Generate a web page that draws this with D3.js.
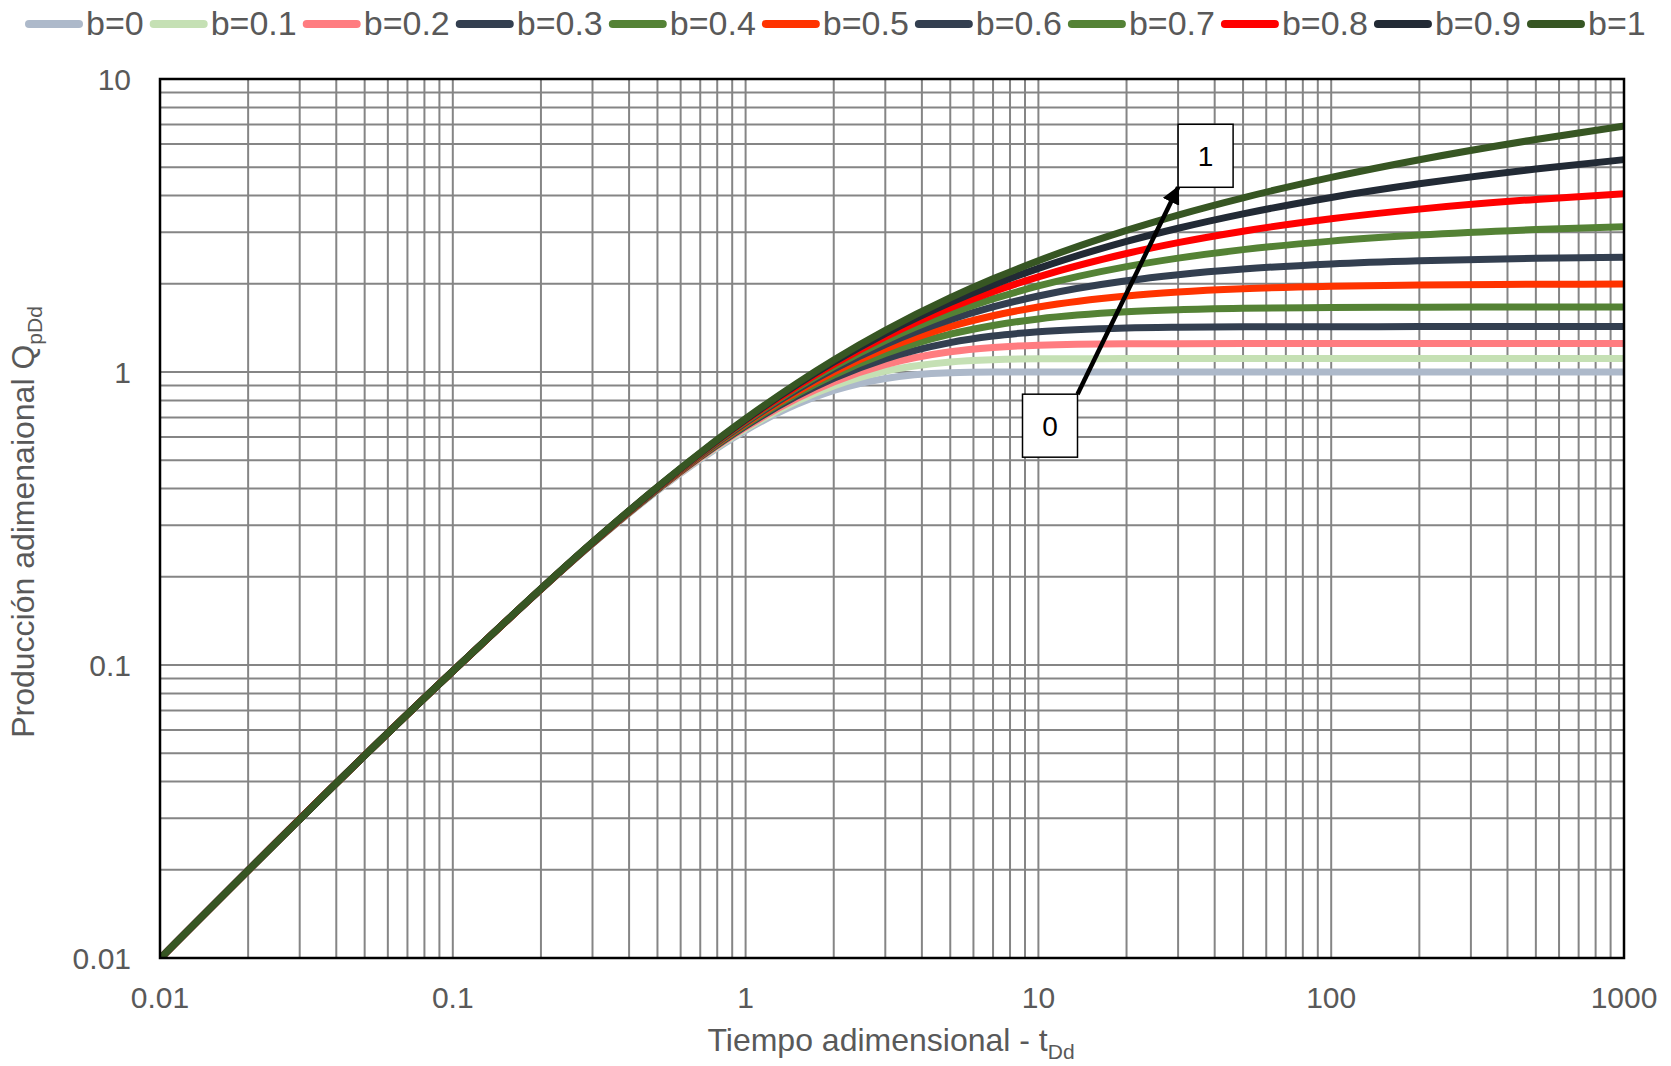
<!DOCTYPE html>
<html>
<head>
<meta charset="utf-8">
<script src="https://cdn.jsdelivr.net/npm/d3@7"></script>
<style>
  html, body { margin: 0; padding: 0; background: #fff; }
  svg { display: block; font-family: "Liberation Sans", Arial, sans-serif; }
</style>
</head>
<body>
<svg id="chart" width="1671" height="1066"></svg>
<script>
// Dimensionless time t_Dd at which each curve is sampled
const tDd = [0.01, 0.1, 0.3, 0.5, 0.7, 1, 1.5, 2, 3, 5, 7, 10, 20, 30, 50, 100, 200, 500, 1000];

// Dimensionless cumulative production Q_pDd for each decline exponent b
const qB00 = [0.00995, 0.0952, 0.2592, 0.3935, 0.5034, 0.6321, 0.7769, 0.8647, 0.9502, 0.9933, 0.9991, 1.0, 1.0, 1.0, 1.0, 1.0, 1.0, 1.0, 1.0];
const qB01 = [0.00995, 0.0952, 0.2596, 0.3949, 0.5068, 0.6399, 0.7953, 0.8958, 1.0063, 1.0822, 1.1017, 1.1089, 1.1111, 1.1111, 1.1111, 1.1111, 1.1111, 1.1111, 1.1111];
const qB02 = [0.00995, 0.0952, 0.2599, 0.3962, 0.5099, 0.6472, 0.8123, 0.9246, 1.0593, 1.1719, 1.2123, 1.2346, 1.2480, 1.2495, 1.2499, 1.25, 1.25, 1.25, 1.25];
const qB03 = [0.00995, 0.0952, 0.2602, 0.3975, 0.5129, 0.6541, 0.8283, 0.9514, 1.1090, 1.2602, 1.3266, 1.3723, 1.4133, 1.4219, 1.4264, 1.4281, 1.4285, 1.4286, 1.4286];
const qB04 = [0.00995, 0.0952, 0.2606, 0.3988, 0.5158, 0.6605, 0.8432, 0.9765, 1.1559, 1.3459, 1.4417, 1.5176, 1.6049, 1.6311, 1.6494, 1.6603, 1.6644, 1.6661, 1.6665];
const qB05 = [0.00995, 0.0952, 0.2609, 0.4000, 0.5185, 0.6667, 0.8571, 1.0000, 1.2000, 1.4286, 1.5556, 1.6667, 1.8182, 1.8750, 1.9231, 1.9608, 1.9802, 1.9920, 1.9960];
const qB06 = [0.00995, 0.0953, 0.2612, 0.4012, 0.5212, 0.6725, 0.8704, 1.0221, 1.2416, 1.5079, 1.6671, 1.8168, 2.0478, 2.1489, 2.2467, 2.3387, 2.3978, 2.4444, 2.4649];
const qB07 = [0.00995, 0.0953, 0.2615, 0.4023, 0.5237, 0.6780, 0.8827, 1.0428, 1.2808, 1.5838, 1.7756, 1.9661, 2.2890, 2.4470, 2.6157, 2.7969, 2.9336, 3.0629, 3.1323];
const qB08 = [0.00995, 0.0953, 0.2618, 0.4034, 0.5261, 0.6833, 0.8946, 1.0625, 1.3179, 1.6563, 1.8805, 2.1133, 2.5376, 2.7639, 3.0241, 3.3333, 3.5963, 3.8826, 4.0601];
const qB09 = [0.00995, 0.0953, 0.2621, 0.4045, 0.5284, 0.6883, 0.9057, 1.0810, 1.3530, 1.7256, 1.9819, 2.2574, 2.7903, 3.0943, 3.4651, 3.9422, 4.3878, 4.9290, 5.3045];
const qB10 = [0.00995, 0.0953, 0.2624, 0.4055, 0.5306, 0.6931, 0.9163, 1.0986, 1.3863, 1.7918, 2.0794, 2.3979, 3.0445, 3.4340, 3.9318, 4.6151, 5.3033, 6.2166, 6.9088];

const seriesNames = ["b=0", "b=0.1", "b=0.2", "b=0.3", "b=0.4", "b=0.5", "b=0.6", "b=0.7", "b=0.8", "b=0.9", "b=1"];
const seriesColors = ["#ADB9CA", "#C5E0B4", "#FF7C80", "#333F50", "#548235", "#FF3300", "#333F50", "#548235", "#FF0000", "#222A35", "#375623"];
const seriesValues = [qB00, qB01, qB02, qB03, qB04, qB05, qB06, qB07, qB08, qB09, qB10];

// Axis tick labels
const xTickLabels = [0.01, 0.1, 1, 10, 100, 1000];
const yTickLabels = [0.01, 0.1, 1, 10];

// Direction arrow from b=0 towards b=1 (data coordinates of its ends)
const arrowFrom = { t: 13.6, q: 0.84, label: "0" };
const arrowTo = { t: 30, q: 4.27, label: "1" };

const svg = d3.select("#chart");
const plot = { left: 160, right: 1624, top: 79, bottom: 958 };

const x = d3.scaleLog().domain([0.01, 1000]).range([plot.left, plot.right]);
const y = d3.scaleLog().domain([0.01, 10]).range([plot.bottom, plot.top]);

// Grid (major and minor lines look the same)
const grid = svg.append("g").attr("stroke", "#858585").attr("stroke-width", 2);
grid.selectAll("line.gx").data(x.ticks()).join("line")
  .attr("x1", d => x(d)).attr("x2", d => x(d))
  .attr("y1", plot.top).attr("y2", plot.bottom);
grid.selectAll("line.gy").data(y.ticks()).join("line")
  .attr("y1", d => y(d)).attr("y2", d => y(d))
  .attr("x1", plot.left).attr("x2", plot.right);

// Curves
svg.append("defs").append("clipPath").attr("id", "plotClip")
  .append("rect").attr("x", plot.left).attr("y", plot.top)
  .attr("width", plot.right - plot.left).attr("height", plot.bottom - plot.top);

const line = d3.line()
  .x(d => x(d[0])).y(d => y(d[1]))
  .curve(d3.curveMonotoneX);

const curves = svg.append("g").attr("clip-path", "url(#plotClip)");
seriesValues.forEach((vals, i) => {
  curves.append("path")
    .datum(tDd.map((t, j) => [t, vals[j]]))
    .attr("fill", "none")
    .attr("stroke", seriesColors[i])
    .attr("stroke-width", 7)
    .attr("stroke-linejoin", "round")
    .attr("d", line);
});

// Frame
svg.append("rect")
  .attr("x", plot.left).attr("y", plot.top)
  .attr("width", plot.right - plot.left).attr("height", plot.bottom - plot.top)
  .attr("fill", "none").attr("stroke", "#000").attr("stroke-width", 2.5);

// Tick labels
const fmt = d => String(d);
svg.append("g").selectAll("text").data(xTickLabels).join("text")
  .attr("x", d => x(d)).attr("y", 1008)
  .attr("text-anchor", "middle")
  .attr("font-size", 30).attr("fill", "#595959")
  .text(fmt);
svg.append("g").selectAll("text").data(yTickLabels).join("text")
  .attr("x", 131).attr("y", d => y(d) + 11)
  .attr("text-anchor", "end")
  .attr("font-size", 30).attr("fill", "#595959")
  .text(fmt);

// Axis titles
const xTitle = svg.append("text")
  .attr("x", 891).attr("y", 1051)
  .attr("text-anchor", "middle")
  .attr("font-size", 32).attr("fill", "#595959");
xTitle.append("tspan").text("Tiempo adimensional - t");
xTitle.append("tspan").attr("font-size", 21).attr("dy", 8).text("Dd");

const yTitle = svg.append("text")
  .attr("transform", "translate(34,522) rotate(-90)")
  .attr("text-anchor", "middle")
  .attr("font-size", 32).attr("fill", "#595959");
yTitle.append("tspan").text("Producción adimenaional Q");
yTitle.append("tspan").attr("font-size", 21).attr("dy", 8).text("pDd");

// Legend
const legend = svg.append("g");
let lx = 25;
seriesNames.forEach((name, i) => {
  legend.append("line")
    .attr("x1", lx + 4).attr("x2", lx + 54)
    .attr("y1", 24).attr("y2", 24)
    .attr("stroke", seriesColors[i]).attr("stroke-width", 8)
    .attr("stroke-linecap", "round");
  const tx = lx + 61;
  const txt = legend.append("text")
    .attr("x", tx).attr("y", 35)
    .attr("font-size", 34).attr("fill", "#595959")
    .text(name);
  lx = tx + txt.node().getComputedTextLength() + 6;
});

// Arrow annotation with its two labelled boxes
const boxW = 55, boxH = 63;
const ax0 = x(arrowFrom.t), ay0 = y(arrowFrom.q);
const ax1 = x(arrowTo.t), ay1 = y(arrowTo.q);

svg.append("defs").append("marker")
  .attr("id", "arrowHead")
  .attr("viewBox", "0 0 10 10").attr("refX", 9).attr("refY", 5)
  .attr("markerWidth", 4).attr("markerHeight", 4)
  .attr("orient", "auto")
  .append("path").attr("d", "M0,0 L10,5 L0,10 Z").attr("fill", "#000");

svg.append("line")
  .attr("x1", ax0).attr("y1", ay0)
  .attr("x2", ax1).attr("y2", ay1)
  .attr("stroke", "#000").attr("stroke-width", 4.5)
  .attr("marker-end", "url(#arrowHead)");

[[ax0 - boxW, ay0, arrowFrom.label], [ax1, ay1 - boxH, arrowTo.label]].forEach(([bx, by, lab]) => {
  svg.append("rect").attr("x", bx).attr("y", by)
    .attr("width", boxW).attr("height", boxH)
    .attr("fill", "#fff").attr("stroke", "#000").attr("stroke-width", 1.5);
  svg.append("text").attr("x", bx + boxW / 2).attr("y", by + boxH / 2 + 10)
    .attr("text-anchor", "middle").attr("font-size", 28).attr("fill", "#000")
    .text(lab);
});
</script>
</body>
</html>
